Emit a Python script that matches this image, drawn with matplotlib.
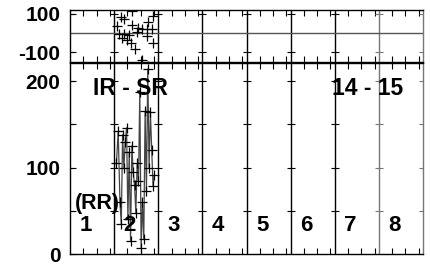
import matplotlib.pyplot as plt
import numpy as np

plt.rcParams["font.family"] = ["Liberation Sans", "DejaVu Sans"]
plt.rcParams["font.weight"] = "bold"

# RR series (bottom panel)
rr_x = [1.05, 1.09, 1.13, 1.16, 1.19, 1.22, 1.25, 1.28, 1.31, 1.34, 1.37, 1.40,
        1.43, 1.46, 1.49, 1.52, 1.55, 1.58, 1.61, 1.64, 1.67, 1.70, 1.73, 1.76,
        1.79, 1.82, 1.85, 1.88, 1.91]
rr_y = [105, 142, 60, 35, 138, 100, 130, 146, 40, 118, 15, 125,
        95, 80, 48, 105, 84, 188, 7, 60, 17, 165, 73, 214,
        100, 164, 120, 79, 91]

# scatter in top panel
top_x = [1.41, 1.16, 1.23, 1.87, 1.76, 1.07, 1.41, 1.53, 1.62, 1.74, 1.85, 1.11,
         1.23, 1.34, 1.51, 1.74, 1.30, 1.18, 1.39, 1.87, 1.46, 1.64, 1.76]
top_y = [113, 82, 72, 87, 56, 36, 41, 26, 21, 21, 21, -5,
         -5, -10, 5, -15, -36, -26, -51, -51, -82, -138, -170]

columns = [1, 2, 3, 4, 5, 6, 7, 8]
col_labels = ["1", "2", "3", "4", "5", "6", "7", "8"]

fig = plt.figure(figsize=(4.3, 2.66), dpi=100)
ax_top = fig.add_axes([0.163, 0.767, 0.821, 0.195])
ax = fig.add_axes([0.163, 0.045, 0.821, 0.718])

line_col = {i: ("black" if i < 7 else "#777777") for i in range(9)}
minor = [c + f for c in range(8) for f in (0.3, 0.6, 0.9)]

for a in (ax_top, ax):
    a.set_xlim(0, 8)
    for i in range(1, 8):
        a.axvline(i, color=line_col[i], lw=1)
    for s in a.spines.values():
        s.set_linewidth(1)
    a.spines["right"].set_color("#777777")
    a.set_xticks([])
    a.set_xticks(minor, minor=True)
    a.tick_params(axis="x", which="minor", direction="in", length=4,
                  top=True, bottom=True, labelbottom=False, width=0.8)
    a.tick_params(axis="y", which="both", direction="in", length=4,
                  labelsize=15, pad=7, width=0.8)

# top panel
ax_top.set_ylim(-150, 120)
ax_top.axhline(0, color="#555555", lw=1)
ax_top.set_yticks([100, -100])
ax_top.set_yticklabels(["100", "-100"], fontweight="bold")
for i in range(9):
    ax_top.plot([i, i], [100, -100], ls="none", marker="_", ms=6, mew=0.8,
                color=line_col[i])
ax_top.plot(top_x, top_y, ls="none", marker="+", ms=7, mew=0.9, color="black")

# bottom panel
ax.set_ylim(0, 221)
ax.set_yticks([0, 100, 200])
ax.set_yticklabels(["0", "100", "200"], fontweight="bold")
ax.set_yticks([50, 150], minor=True)
for i in range(9):
    ax.plot([i] * 4, [50, 100, 150, 200], ls="none", marker="_", ms=6, mew=0.8,
            color=line_col[i])
ax.plot(rr_x, rr_y, color="#444444", lw=0.9, marker="+", ms=7, mew=0.9,
        mec="black")

ax.text(0.52, 192, "IR - SR", fontsize=16.5, fontweight="bold", va="center")
ax.text(6.73, 192, "14 - 15", fontsize=16.5, fontweight="bold", va="center",
        ha="center")
ax.text(0.61, 59, "(RR)", fontsize=15.5, fontweight="bold", va="center",
        ha="center")
for c, lab in zip(columns, col_labels):
    ax.text(c - 1 + 0.35, 33, lab, fontsize=16, fontweight="bold",
            va="center", ha="center")

fig.savefig("out.png", dpi=100)
